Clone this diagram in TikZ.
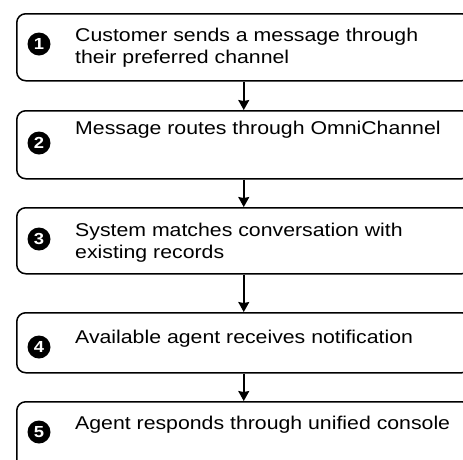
\documentclass[tikz,border=0pt]{standalone}
\usepackage{fontspec}
\setmainfont{Liberation Sans}[FakeStretch=1.15]
\usetikzlibrary{arrows.meta}
\tikzset{
  stepbox/.style={draw=black, line width=1.5pt, rounded corners=9pt, fill=white,
    minimum width=454pt, inner sep=0pt},
  stepnum/.style={circle, fill=black, minimum size=23pt, inner sep=0pt,
    text=white, font=\bfseries\fontsize{16}{16}\selectfont},
  steptext/.style={anchor=base west, align=left, inner sep=0pt,
    font=\fontsize{18.5}{22}\selectfont},
  flow/.style={-{Stealth[length=10pt,width=11pt,inset=1pt]}, line width=1.5pt}
}
\begin{document}
\begin{tikzpicture}[x=1pt,y=-1pt]
				\useasboundingbox (0,0) rectangle (463,459);
				\clip (0,0) rectangle (463,459);
				\fill[white] (0,0) rectangle (463,459);
				% boxes
				\node[stepbox, minimum height=67pt, anchor=north west] (b1) at (16,13) {};
				\node[stepbox, minimum height=68pt, anchor=north west] (b2) at (16,110) {};
				\node[stepbox, minimum height=66pt, anchor=north west] (b3) at (16,207) {};
				\node[stepbox, minimum height=60pt, anchor=north west] (b4) at (16,312) {};
				\node[stepbox, minimum height=70pt, anchor=north west] (b5) at (16,401) {};
				% numbers
				\node[stepnum] (n1) at (39,44) {1};
				\node[stepnum] (n2) at (39,143) {2};
				\node[stepnum] (n3) at (39,239) {3};
				\node[stepnum] (n4) at (39,347) {4};
				\node[stepnum] (n5) at (39,432) {5};
				% labels (base = last line)
				\node[steptext] (t1) at (75,63.5) {Customer sends a message through\\their preferred channel};
				\node[steptext] (t2) at (75,134.5) {Message routes through OmniChannel};
				\node[steptext] (t3) at (75,258.5) {System matches conversation with\\existing records};
				\node[steptext] (t4) at (75,343.5) {Available agent receives notification};
				\node[steptext] (t5) at (75,429.5) {Agent responds through unified console};
				% arrows
				\draw[flow] (b1.south) -- (b2.north);
				\draw[flow] (b2.south) -- (b3.north);
				\draw[flow] (b3.south) -- (b4.north);
				\draw[flow] (b4.south) -- (b5.north);
			\end{tikzpicture}
\end{document}
